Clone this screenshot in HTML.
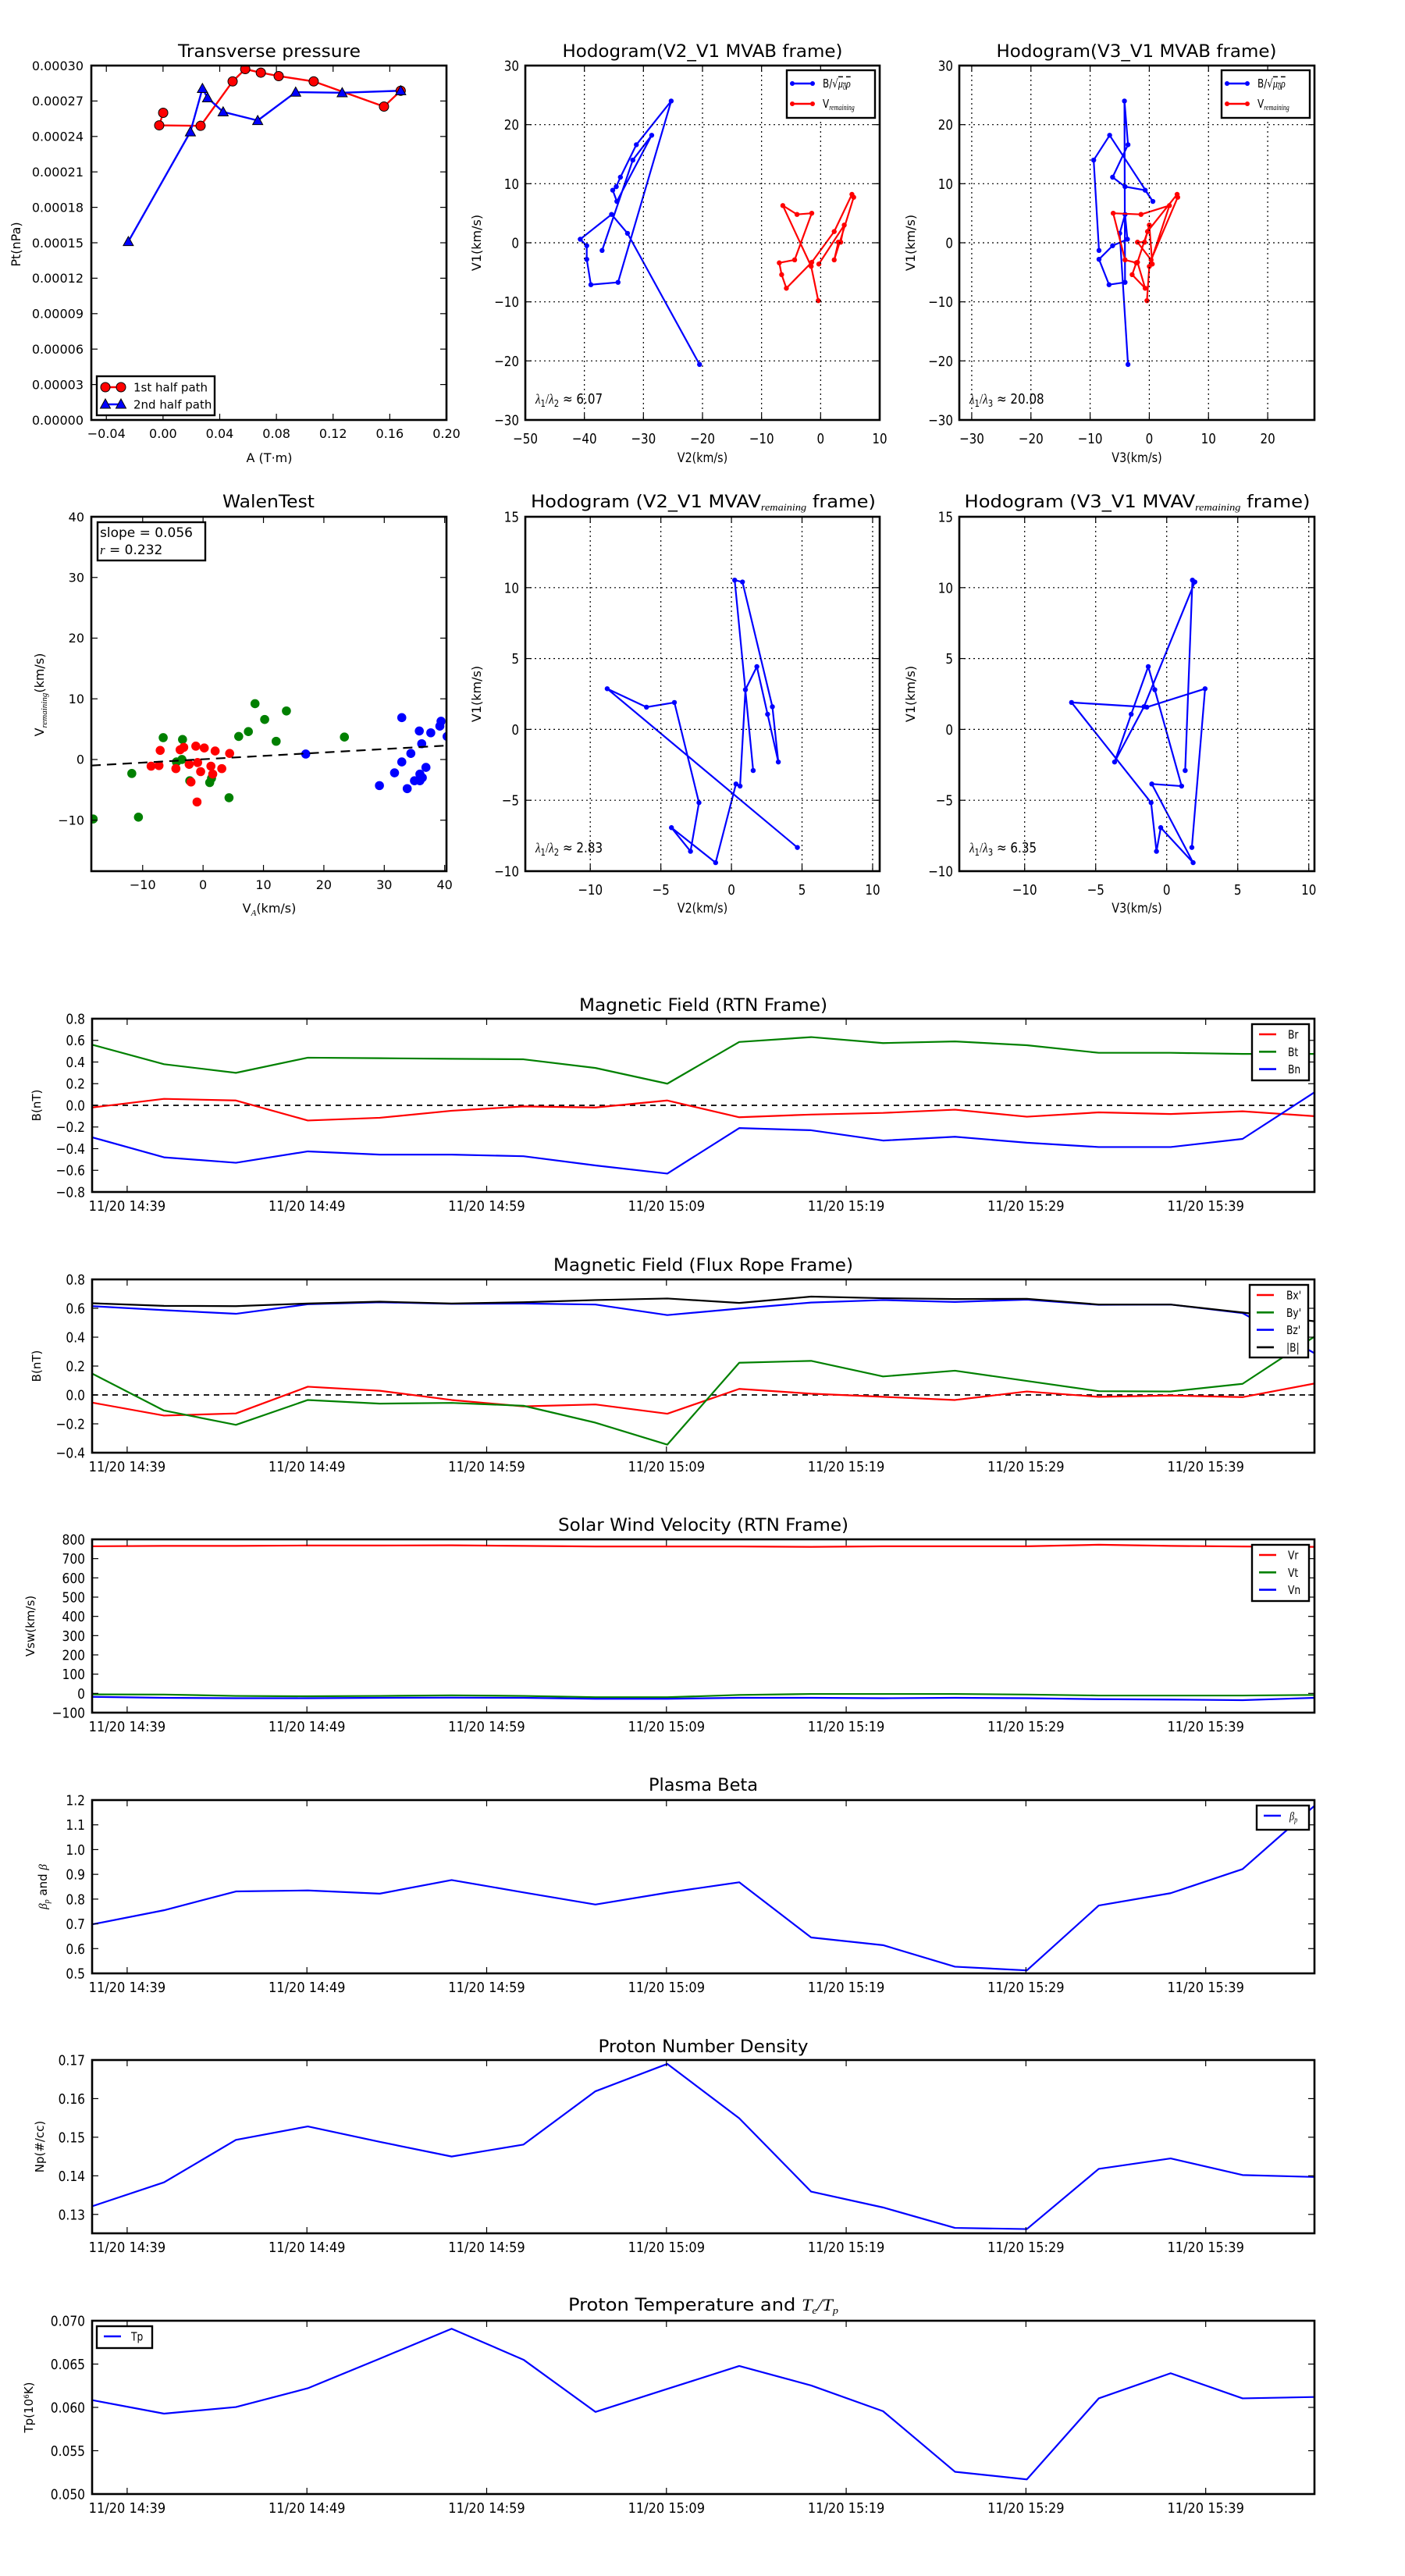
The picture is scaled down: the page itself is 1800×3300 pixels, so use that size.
<!DOCTYPE html>
<html><head><meta charset="utf-8"><title>Flux rope analysis</title>
<style>
html,body{margin:0;padding:0;background:#fff;}
svg{display:block;font-family:"DejaVu Sans","Liberation Sans",sans-serif;}
</style></head>
<body>
<svg id="fig" width="1800" height="3300" viewBox="0 0 1800 3300">
<rect x="0" y="0" width="1800" height="3300" fill="#fff"/>
</svg>
<script>
// ===== Data: transverse pressure =====
const ptA1 = [0.0001,-0.0027,0.0265,0.0491,0.058,0.069,0.0816,0.1063,0.1559,0.1677];
const ptP1 = [0.000260,0.0002494,0.000249,0.0002866,0.000297,0.000294,0.0002911,0.0002866,0.0002653,0.0002787];
const ptA2 = [-0.0245,0.0193,0.0278,0.0314,0.0424,0.0668,0.0936,0.1264,0.1677];
const ptP2 = [0.000151,0.0002439,0.0002806,0.0002727,0.0002608,0.0002535,0.0002775,0.000277,0.0002787];
const ptXTicks = [-0.04,0,0.04,0.08,0.12,0.16,0.20];
const ptXLabels = ['\u22120.04','0.00','0.04','0.08','0.12','0.16','0.20'];
const ptYTicks = [0,0.00003,0.00006,0.00009,0.00012,0.00015,0.00018,0.00021,0.00024,0.00027,0.0003];
const ptYLabels = ['0.00000','0.00003','0.00006','0.00009','0.00012','0.00015','0.00018','0.00021','0.00024','0.00027','0.00030'];
// ===== Data: MVAB hodograms =====
const mvabBV1 = [-1.3,14.0,18.2,7.0,8.9,9.5,11.1,16.6,24.0,-6.7,-7.1,-2.8,-0.5,0.6,4.8,1.6,-20.6];
const mvabBV2 = [-37.0,-31.8,-28.6,-34.5,-35.2,-34.6,-33.9,-31.2,-25.3,-34.3,-38.9,-39.6,-39.6,-40.7,-35.4,-32.7,-20.5];
const mvabBV3 = [-8.5,-9.4,-6.7,0.6,-0.7,-4.1,-6.2,-3.6,-4.2,-4.1,-6.8,-8.5,-6.2,-3.7,-4.1,-5.0,-3.6];
const mvabVV1 = [-9.8,-4.0,6.3,4.8,5.0,-2.9,-3.4,-5.4,-7.7,-3.3,1.9,8.2,7.7,-2.9,0.1,0.1,3.0,-3.6];
const mvabVV2 = [-0.4,-1.6,-6.4,-4.0,-1.5,-4.4,-7.0,-6.6,-5.8,-1.5,2.3,5.3,5.6,2.3,3.0,3.4,4.0,-0.3];
const mvabVV3 = [-0.4,0.0,3.4,-1.4,-6.1,-4.1,-2.2,-2.9,-0.7,-2.0,-0.3,4.7,4.8,0.3,-2.0,-0.8,0.0,0.5];
// ===== Data: MVAV hodograms =====
const mvavV1 = [-8.33,2.87,1.57,1.9,-5.17,-8.6,-6.93,-9.4,-3.85,-4.0,2.8,4.43,1.07,-2.3,1.6,10.4,10.53,-2.9];
const mvavV2 = [4.67,-8.8,-6.02,-4.04,-2.3,-2.9,-4.25,-1.12,0.32,0.61,0.99,1.8,2.56,3.32,2.9,0.78,0.23,1.54];
const mvavV3 = [1.77,2.7,-1.4,-6.7,-1.1,-0.72,-0.42,1.86,-1.05,1.05,-0.84,-1.3,-2.5,-3.67,-1.6,1.98,1.81,1.3];
// ===== Data: Walen test =====
const walGreenX = [-18.2,-11.8,-10.7,-6.6,-3.4,-3.5,-4.4,-2.2,1.1,1.4,4.3,5.9,7.5,8.6,10.2,12.1,13.8,23.4];
const walGreenY = [-9.8,-2.3,-9.5,3.6,3.3,0,-0.4,-3.5,-3.8,-3.1,-6.3,3.8,4.6,9.2,6.6,3.0,8.0,3.7];
const walRedX = [-8.6,-7.3,-7.1,-4.5,-3.8,-3.2,-2.3,-2.0,-1.2,-1.0,-0.9,-0.4,0.2,1.3,1.6,2.0,3.1,4.4];
const walRedY = [-1.1,-1.0,1.5,-1.5,1.6,2.0,-0.8,-3.7,2.2,-7.0,-0.5,-2.0,1.9,-1.1,-2.4,1.4,-1.5,1.0];
const walBlueX = [17.0,29.2,31.7,32.9,32.9,33.8,34.4,35.0,35.8,35.9,35.9,36.2,36.3,36.9,37.7,39.2,39.4,40.4];
const walBlueY = [0.9,-4.3,-2.2,6.9,-0.4,-4.8,1.0,-3.5,4.7,-2.4,-3.5,2.6,-3.0,-1.3,4.4,5.5,6.3,3.8];
const walSlope = 0.056;
const walIntercept = 0.04;
// ===== Data: time series =====
const tMin = [0,4,8,12,16,20,24,28,32,36,40,44,48,52,56,60,64,68];
const timeTicks = [1.95,11.95,21.95,31.95,41.95,51.95,61.95];
const timeLabels = ['11/20 14:39','11/20 14:49','11/20 14:59','11/20 15:09','11/20 15:19','11/20 15:29','11/20 15:39'];
const br = [-0.02,0.06,0.045,-0.14,-0.115,-0.05,-0.01,-0.02,0.045,-0.11,-0.085,-0.07,-0.04,-0.105,-0.065,-0.08,-0.055,-0.1];
const bt = [0.56,0.38,0.30,0.44,0.435,0.43,0.425,0.345,0.20,0.585,0.63,0.575,0.59,0.555,0.485,0.485,0.475,0.475];
const bn = [-0.295,-0.48,-0.53,-0.425,-0.455,-0.455,-0.47,-0.555,-0.63,-0.21,-0.23,-0.325,-0.29,-0.345,-0.385,-0.385,-0.31,0.12];
const bxp = [-0.053,-0.143,-0.128,0.057,0.029,-0.035,-0.079,-0.066,-0.13,0.042,0.009,-0.013,-0.035,0.024,-0.013,-0.004,-0.015,0.079];
const byp = [0.148,-0.108,-0.207,-0.035,-0.06,-0.055,-0.075,-0.192,-0.344,0.223,0.236,0.128,0.168,0.097,0.026,0.024,0.077,0.404];
const bzp = [0.615,0.587,0.562,0.628,0.642,0.631,0.633,0.626,0.553,0.598,0.64,0.657,0.644,0.66,0.624,0.626,0.567,0.289];
const bmag = [0.635,0.617,0.615,0.633,0.646,0.633,0.642,0.657,0.668,0.637,0.681,0.67,0.664,0.666,0.626,0.626,0.571,0.51];
const vr = [764,766,766,768,768,769,766,763,763,763,761,764,764,764,772,766,763,761];
const vt = [-5,-6,-13,-15,-13,-10,-13,-20,-20,-8,-3,-3,-3,-6,-11,-11,-11,-8];
const vn = [-18,-23,-25,-25,-23,-22,-23,-28,-28,-23,-23,-25,-23,-25,-30,-32,-35,-23];
const betaP = [0.698,0.755,0.831,0.835,0.822,0.877,0.827,0.778,0.826,0.868,0.645,0.614,0.527,0.512,0.774,0.824,0.921,1.177];
const np = [0.1321,0.1383,0.1493,0.1528,0.1488,0.1450,0.1481,0.1619,0.1690,0.1549,0.1359,0.1318,0.1265,0.1262,0.1418,0.1445,0.1402,0.1397];
const tp = [0.06084,0.05928,0.06004,0.06221,0.06562,0.06908,0.0655,0.05948,0.06213,0.06478,0.06253,0.05956,0.05257,0.05169,0.06104,0.06394,0.06104,0.0612];

// ===== helpers =====
const NS = 'http://www.w3.org/2000/svg';
const svg = document.getElementById('fig');
let clipId = 0;
function mk(tag, attrs, parent) {
  const e = document.createElementNS(NS, tag);
  for (const k in attrs) e.setAttribute(k, attrs[k]);
  (parent || svg).appendChild(e);
  return e;
}
function txt(parent, x, y, s, size, anchor, sx, rot, name) {
  const t = mk('text', {x: 0, y: 0, 'font-size': size, 'text-anchor': anchor || 'middle', fill: '#000',
    transform: 'translate(' + x + ',' + y + ') rotate(' + (rot || 0) + ') scale(' + (sx || 1) + ',1)'}, parent);
  t.textContent = s;
  
  
  return t;
}
function title(parent, cx, y, s, width, name) {
  const t = mk('text', {x: cx, y: y, 'font-size': 22, 'text-anchor': 'middle', textLength: width, lengthAdjust: 'spacingAndGlyphs'}, parent);
  t.textContent = s;
  
  
  return t;
}
function makeAxes(name, l, t, r, b, xr, yr) {
  const g = mk('g', {});
  
  
  const id = 'clip' + (clipId++);
  const cp = mk('clipPath', {id: id}, g);
  mk('rect', {x: l, y: t, width: r - l, height: b - t}, cp);
  const data = mk('g', {'clip-path': 'url(#' + id + ')'}, g);
  
  
  return {g: g, data: data, l: l, t: t, r: r, b: b,
    sx: v => l + (v - xr[0]) / (xr[1] - xr[0]) * (r - l),
    sy: v => b - (v - yr[0]) / (yr[1] - yr[0]) * (b - t)};
}
function frame(ax) {
  const f = mk('rect', {x: ax.l, y: ax.t, width: ax.r - ax.l, height: ax.b - ax.t, fill: 'none', stroke: '#000', 'stroke-width': 2.6}, ax.g);
  
  
}
function xticks(ax, vals, labels, o) {
  vals.forEach((v, i) => {
    const x = ax.sx(v);
    if (o.grid) {
      const gl = mk('line', {x1: x, y1: ax.t, x2: x, y2: ax.b, stroke: '#000', 'stroke-width': 1.2, 'stroke-dasharray': '2,4'}, ax.g);
      
      
    }
    const t1 = mk('line', {x1: x, y1: ax.b, x2: x, y2: ax.b - 8, stroke: '#000', 'stroke-width': 1.2}, ax.g);
    
    
    const t2 = mk('line', {x1: x, y1: ax.t, x2: x, y2: ax.t + 8, stroke: '#000', 'stroke-width': 1.2}, ax.g);
    
    
    txt(ax.g, x, ax.b + o.dy, labels[i], o.fs, 'middle', o.sc, 0, 'x-tick-label');
  });
}
function yticks(ax, vals, labels, o) {
  vals.forEach((v, i) => {
    const y = ax.sy(v);
    if (o.grid) {
      const gl = mk('line', {x1: ax.l, y1: y, x2: ax.r, y2: y, stroke: '#000', 'stroke-width': 1.2, 'stroke-dasharray': '2,4'}, ax.g);
      
      
    }
    const t1 = mk('line', {x1: ax.l, y1: y, x2: ax.l + 8, y2: y, stroke: '#000', 'stroke-width': 1.2}, ax.g);
    
    
    const t2 = mk('line', {x1: ax.r, y1: y, x2: ax.r - 8, y2: y, stroke: '#000', 'stroke-width': 1.2}, ax.g);
    
    
    txt(ax.g, o.x, y + o.fs * 0.36, labels[i], o.fs, 'end', o.sc, 0, 'y-tick-label');
  });
}
function line(ax, xs, ys, color, w, name, dash) {
  const d = xs.map((x, i) => (i ? 'L' : 'M') + ax.sx(x).toFixed(2) + ',' + ax.sy(ys[i]).toFixed(2)).join('');
  const p = mk('path', {d: d, fill: 'none', stroke: color, 'stroke-width': w, 'stroke-linejoin': 'round', 'stroke-dasharray': dash || 'none'}, ax.data);
  
  
  return p;
}
function dots(ax, xs, ys, color, r, name, edge) {
  xs.forEach((x, i) => {
    const c = mk('circle', {cx: ax.sx(x), cy: ax.sy(ys[i]), r: r, fill: color, stroke: edge || color, 'stroke-width': edge ? 1 : 0}, ax.data);
    
    
  });
}
function tris(ax, xs, ys, color, s, name) {
  xs.forEach((x, i) => {
    const cx = ax.sx(x), cy = ax.sy(ys[i]);
    const p = mk('polygon', {points: cx + ',' + (cy - s) + ' ' + (cx - s) + ',' + (cy + s * 0.8) + ' ' + (cx + s) + ',' + (cy + s * 0.8), fill: color, stroke: '#000', 'stroke-width': 1}, ax.data);
    
    
  });
}
function legendBox(parent, x, y, w, h, name) {
  const g = mk('g', {}, parent);
  
  
  mk('rect', {x: x, y: y, width: w, height: h, fill: '#fff', stroke: '#000', 'stroke-width': 2.4}, g);
  return g;
}
function legEntry(g, x1, x2, y, color, label, tx, fs, sc, name) {
  const l = mk('line', {x1: x1, y1: y, x2: x2, y2: y, stroke: color, 'stroke-width': 2.6}, g);
  
  
  txt(g, tx, y + fs * 0.36, label, fs, 'start', sc, 0, name + '-label');
}

// ===== 1. Transverse pressure =====
(function () {
  const ax = makeAxes('transverse-pressure-chart', 117, 84, 572, 538, [-0.0506, 0.2], [0, 0.0003]);
  title(ax.g, 345, 73, 'Transverse pressure', 234, 'transverse-pressure-title');
  line(ax, ptA1, ptP1, '#ff0000', 2.4, 'first-half-path-line');
  line(ax, ptA2, ptP2, '#0000ff', 2.4, 'second-half-path-line');
  dots(ax, ptA1, ptP1, '#ff0000', 6, 'first-half-point', '#000');
  tris(ax, ptA2, ptP2, '#0000ff', 6.5, 'second-half-point');
  xticks(ax, ptXTicks, ptXLabels, {fs: 16, sc: 1, dy: 23});
  yticks(ax, ptYTicks, ptYLabels, {fs: 16, sc: 1, x: 107});
  frame(ax);
  txt(ax.g, 345, 592, 'A (T\u00b7m)', 16, 'middle', 1, 0, 'x-axis-title');
  txt(ax.g, 26, 313, 'Pt(nPa)', 16, 'middle', 1, -90, 'y-axis-title');
  const lg = legendBox(ax.g, 124, 482, 151, 50, 'legend');
  legEntry(lg, 135, 155, 496, '#ff0000', '1st half path', 171, 15, 1, 'legend-entry-1st-half');
  const c1 = mk('circle', {cx: 135, cy: 496, r: 6, fill: '#ff0000', stroke: '#000'}, lg);
   
  const c2 = mk('circle', {cx: 155, cy: 496, r: 6, fill: '#ff0000', stroke: '#000'}, lg);
   
  legEntry(lg, 135, 155, 518, '#0000ff', '2nd half path', 171, 15, 1, 'legend-entry-2nd-half');
  [135, 155].forEach(cx => {
    const p = mk('polygon', {points: cx + ',' + 511 + ' ' + (cx - 6.5) + ',' + 523 + ' ' + (cx + 6.5) + ',' + 523, fill: '#0000ff', stroke: '#000'}, lg);
    
    
  });
})();

// ===== Hodogram builder =====
function lambdaText(parent, x, y, sub2, val, name) {
  const t = mk('text', {x: 0, y: 0, 'font-size': 18, 'text-anchor': 'start', transform: 'translate(' + x + ',' + y + ') scale(0.84,1)'}, parent);
  
  
  t.innerHTML = '<tspan font-family="Liberation Serif, serif" font-style="italic">\u03bb</tspan><tspan font-size="12" dy="4">1</tspan><tspan dy="-4" font-family="Liberation Serif, serif">/</tspan><tspan font-family="Liberation Serif, serif" font-style="italic">\u03bb</tspan><tspan font-size="12" dy="4">' + sub2 + '</tspan><tspan dy="-4"> \u2248 ' + val + '</tspan>';
}
function hodoLegend(parent, x, y, name, withV) {
  const lg = legendBox(parent, x, y, 113, 61, name);
  const rows = [[y + 17, '#0000ff'], [y + 43, '#ff0000']];
  rows.forEach((r, k) => {
    const l = mk('line', {x1: x + 7, y1: r[0], x2: x + 33, y2: r[0], stroke: r[1], 'stroke-width': 2.6}, lg);
    
    
    [x + 7, x + 33].forEach(cx => {
      const c = mk('circle', {cx: cx, cy: r[0], r: 3, fill: r[1]}, lg);
      
      
    });
  });
  const t1 = mk('text', {x: 0, y: 0, 'font-size': 15, transform: 'translate(' + (x + 46) + ',' + (y + 22) + ') scale(0.8,1)'}, lg);
  
  
  t1.innerHTML = 'B/\u221a<tspan text-decoration="overline" font-family="Liberation Serif, serif" font-style="italic">\u03bc<tspan font-size="10" dy="3">0</tspan><tspan dy="-3">\u03c1</tspan></tspan>';
  const t2 = mk('text', {x: 0, y: 0, 'font-size': 15, transform: 'translate(' + (x + 46) + ',' + (y + 48) + ') scale(0.8,1)'}, lg);
  
  
  t2.innerHTML = 'V<tspan font-size="10" dy="3" font-family="Liberation Serif, serif" font-style="italic">remaining</tspan>';
}
function hodogram(o) {
  const ax = makeAxes(o.name, o.l, o.t, o.r, o.b, o.xr, o.yr);
  xticks(ax, o.xt, o.xt.map(v => v < 0 ? '\u2212' + Math.abs(v) : '' + v), {fs: 18, sc: 0.84, dy: 30, grid: true});
  yticks(ax, o.yt, o.yt.map(v => v < 0 ? '\u2212' + Math.abs(v) : '' + v), {fs: 18, sc: 0.84, x: o.l - 8, grid: true});
  o.series.forEach(s => {
    line(ax, s.x, s.y, s.c, 2.2, s.n + '-line');
    dots(ax, s.x, s.y, s.c, 3.2, s.n + '-point');
  });
  frame(ax);
  const tt = mk('text', {x: o.tc, y: o.ty, 'font-size': 22, 'text-anchor': 'middle', textLength: o.tw, lengthAdjust: 'spacingAndGlyphs'}, ax.g);
  
  
  tt.innerHTML = o.title;
  txt(ax.g, (o.l + o.r) / 2, o.xly, o.xlab, 17, 'middle', 0.84, 0, 'x-axis-title');
  txt(ax.g, o.l - 57, (o.t + o.b) / 2, 'V1(km/s)', 16, 'middle', 1, -90, 'y-axis-title');
  lambdaText(ax.g, o.l + 13, o.lamy, o.sub2, o.lam, 'eigenvalue-ratio');
  if (o.legend) hodoLegend(ax.g, o.r - 119, o.t + 6, 'legend', true);
}
hodogram({name: 'hodogram-v2-v1-mvab', l: 673, t: 84, r: 1127, b: 538, xr: [-50, 10], yr: [-30, 30],
  xt: [-50, -40, -30, -20, -10, 0, 10], yt: [-30, -20, -10, 0, 10, 20, 30],
  series: [{x: mvabBV2, y: mvabBV1, c: '#0000ff', n: 'b-alfven'}, {x: mvabVV2, y: mvabVV1, c: '#ff0000', n: 'v-remaining'}],
  tc: 900, ty: 73, tw: 359, title: 'Hodogram(V2_V1 MVAB frame)', xly: 592, xlab: 'V2(km/s)', lamy: 517, sub2: '2', lam: '6.07', legend: true});
hodogram({name: 'hodogram-v3-v1-mvab', l: 1229, t: 84, r: 1684, b: 538, xr: [-32.1, 27.9], yr: [-30, 30],
  xt: [-30, -20, -10, 0, 10, 20], yt: [-30, -20, -10, 0, 10, 20, 30],
  series: [{x: mvabBV3, y: mvabBV1, c: '#0000ff', n: 'b-alfven'}, {x: mvabVV3, y: mvabVV1, c: '#ff0000', n: 'v-remaining'}],
  tc: 1456, ty: 73, tw: 359, title: 'Hodogram(V3_V1 MVAB frame)', xly: 592, xlab: 'V3(km/s)', lamy: 517, sub2: '3', lam: '20.08', legend: true});
const subRem = '<tspan font-size="13" dy="4" font-family="Liberation Serif, serif" font-style="italic">remaining</tspan><tspan dy="-4"> frame)</tspan>';
hodogram({name: 'hodogram-v2-v1-mvav', l: 673, t: 662, r: 1127, b: 1116, xr: [-14.6, 10.5], yr: [-10, 15],
  xt: [-10, -5, 0, 5, 10], yt: [-10, -5, 0, 5, 10, 15],
  series: [{x: mvavV2, y: mvavV1, c: '#0000ff', n: 'velocity'}],
  tc: 901, ty: 650, tw: 442, title: 'Hodogram (V2_V1 MVAV' + subRem, xly: 1169, xlab: 'V2(km/s)', lamy: 1092, sub2: '2', lam: '2.83', legend: false});
hodogram({name: 'hodogram-v3-v1-mvav', l: 1229, t: 662, r: 1684, b: 1116, xr: [-14.6, 10.4], yr: [-10, 15],
  xt: [-10, -5, 0, 5, 10], yt: [-10, -5, 0, 5, 10, 15],
  series: [{x: mvavV3, y: mvavV1, c: '#0000ff', n: 'velocity'}],
  tc: 1457, ty: 650, tw: 443, title: 'Hodogram (V3_V1 MVAV' + subRem, xly: 1169, xlab: 'V3(km/s)', lamy: 1092, sub2: '3', lam: '6.35', legend: false});

// ===== Walen test =====
(function () {
  const xr = [-18.5, 40.3];
  const ax = makeAxes('walen-test-chart', 117, 662, 572, 1116, xr, [-18.4, 40]);
  title(ax.g, 344, 650, 'WalenTest', 118, 'walen-test-title');
  dots(ax, walGreenX, walGreenY, '#008000', 5.8, 'green-point');
  dots(ax, walRedX, walRedY, '#ff0000', 5.8, 'red-point');
  dots(ax, walBlueX, walBlueY, '#0000ff', 5.8, 'blue-point');
  line(ax, xr, xr.map(v => walSlope * v + walIntercept), '#000', 2.2, 'fit-line', '12,8');
  const labs = v => v < 0 ? '\u2212' + Math.abs(v) : '' + v;
  xticks(ax, [-10, 0, 10, 20, 30, 40], [-10, 0, 10, 20, 30, 40].map(labs), {fs: 16, sc: 1, dy: 23});
  yticks(ax, [-10, 0, 10, 20, 30, 40], [-10, 0, 10, 20, 30, 40].map(labs), {fs: 16, sc: 1, x: 108});
  frame(ax);
  const xl = mk('text', {x: 345, y: 1169, 'font-size': 16, 'text-anchor': 'middle'}, ax.g);
  
  
  xl.innerHTML = 'V<tspan font-size="11" dy="4" font-family="Liberation Serif, serif" font-style="italic">A</tspan><tspan dy="-4">(km/s)</tspan>';
  const yl = mk('text', {x: 0, y: 0, 'font-size': 16, 'text-anchor': 'middle', transform: 'translate(56,890) rotate(-90)'}, ax.g);
  
  
  yl.innerHTML = 'V<tspan font-size="11" dy="4" font-family="Liberation Serif, serif" font-style="italic">remaining</tspan><tspan dy="-4">(km/s)</tspan>';
  const box = legendBox(ax.g, 125, 669, 138, 49, 'fit-statistics-box');
  txt(box, 128, 688, 'slope = 0.056', 17, 'start', 1, 0, 'slope-text');
  const r = mk('text', {x: 128, y: 710, 'font-size': 17}, box);
  
  
  r.innerHTML = '<tspan font-family="Liberation Serif, serif" font-style="italic">r</tspan> = 0.232';
})();

// ===== Time series builder =====
function timeSeries(o) {
  const ax = makeAxes(o.name, 118, o.t, 1684, o.t + 222, [0, 68], o.yr);
  const tt = mk('text', {x: 901, y: o.ty, 'font-size': 22, 'text-anchor': 'middle', textLength: o.tw, lengthAdjust: 'spacingAndGlyphs'}, ax.g);
  
  
  tt.innerHTML = o.title;
  if (o.zero) {
    const z = mk('line', {x1: ax.l, x2: ax.r, y1: ax.sy(0), y2: ax.sy(0), stroke: '#000', 'stroke-width': 1.8, 'stroke-dasharray': '7,6'}, ax.data);
    
    
  }
  o.series.forEach(s => line(ax, tMin, s.v, s.c, 2.2, s.n + '-line'));
  xticks(ax, timeTicks, timeLabels, {fs: 18, sc: 0.9, dy: 24});
  yticks(ax, o.yt, o.yl, {fs: 18, sc: 0.86, x: 109});
  frame(ax);
  const yl = mk('text', {x: 0, y: 0, 'font-size': 15, 'text-anchor': 'middle', transform: 'translate(' + o.ylx + ',' + (o.t + 111) + ') rotate(-90)'}, ax.g);
  
  
  yl.innerHTML = o.ylab;
  if (o.leg) {
    const L = o.leg;
    const lg = legendBox(ax.g, L.x, L.y, L.w, L.h, 'legend');
    o.series.forEach((s, i) => {
      const lab = L.labels ? L.labels[i] : s.n;
      const y = L.y + 13 + i * 22.3;
      const l = mk('line', {x1: L.x + 9, y1: y, x2: L.x + 31, y2: y, stroke: s.c, 'stroke-width': 2.6}, lg);
      
      
      const t = mk('text', {x: 0, y: 0, 'font-size': 15, transform: 'translate(' + (L.x + L.tx) + ',' + (y + 5.5) + ') scale(0.82,1)'}, lg);
      
      
      t.innerHTML = lab;
    });
  }
}
const fmt = (v, d) => (v < 0 ? '\u2212' : '') + Math.abs(v).toFixed(d);
const ytRTN = [-0.8, -0.6, -0.4, -0.2, 0, 0.2, 0.4, 0.6, 0.8];
timeSeries({name: 'magnetic-field-rtn-chart', t: 1305, yr: [-0.8, 0.8], ty: 1295, tw: 318, title: 'Magnetic Field (RTN Frame)',
  zero: true, yt: ytRTN, yl: ytRTN.map(v => fmt(v, 1)), ylx: 52, ylab: 'B(nT)',
  series: [{v: br, c: '#ff0000', n: 'Br'}, {v: bt, c: '#008000', n: 'Bt'}, {v: bn, c: '#0000ff', n: 'Bn'}],
  leg: {x: 1604, y: 1312, w: 73, h: 72, tx: 46}});
const ytFR = [-0.4, -0.2, 0, 0.2, 0.4, 0.6, 0.8];
timeSeries({name: 'magnetic-field-flux-rope-chart', t: 1639, yr: [-0.4, 0.8], ty: 1628, tw: 384, title: 'Magnetic Field (Flux Rope Frame)',
  zero: true, yt: ytFR, yl: ytFR.map(v => fmt(v, 1)), ylx: 52, ylab: 'B(nT)',
  series: [{v: bxp, c: '#ff0000', n: 'Bx'}, {v: byp, c: '#008000', n: 'By'}, {v: bzp, c: '#0000ff', n: 'Bz'}, {v: bmag, c: '#000000', n: 'Bmag'}],
  leg: {x: 1601, y: 1646, w: 75, h: 93, tx: 47, labels: ["Bx'", "By'", "Bz'", '|B|']}});
const ytSW = [-100, 0, 100, 200, 300, 400, 500, 600, 700, 800];
timeSeries({name: 'solar-wind-velocity-chart', t: 1972, yr: [-100, 800], ty: 1961, tw: 372, title: 'Solar Wind Velocity (RTN Frame)',
  zero: false, yt: ytSW, yl: ytSW.map(v => fmt(v, 0)), ylx: 44, ylab: 'Vsw(km/s)',
  series: [{v: vr, c: '#ff0000', n: 'Vr'}, {v: vt, c: '#008000', n: 'Vt'}, {v: vn, c: '#0000ff', n: 'Vn'}],
  leg: {x: 1604, y: 1979, w: 73, h: 72, tx: 46}});
const ytB = [0.5, 0.6, 0.7, 0.8, 0.9, 1.0, 1.1, 1.2];
timeSeries({name: 'plasma-beta-chart', t: 2306, yr: [0.5, 1.2], ty: 2294, tw: 140, title: 'Plasma Beta',
  zero: false, yt: ytB, yl: ytB.map(v => fmt(v, 1)), ylx: 60,
  ylab: '<tspan font-family="Liberation Serif, serif" font-style="italic">\u03b2</tspan><tspan font-size="10" dy="3" font-family="Liberation Serif, serif" font-style="italic">p</tspan><tspan dy="-3"> and </tspan><tspan font-family="Liberation Serif, serif" font-style="italic">\u03b2</tspan>',
  series: [{v: betaP, c: '#0000ff', n: 'beta-p'}],
  leg: {x: 1610, y: 2313, w: 67, h: 31, tx: 42, labels: ['<tspan font-family="Liberation Serif, serif" font-style="italic">\u03b2<tspan font-size="10" dy="3">p</tspan></tspan>']}});
const ytN = [0.13, 0.14, 0.15, 0.16, 0.17];
timeSeries({name: 'proton-density-chart', t: 2639, yr: [0.1251, 0.17], ty: 2629, tw: 269, title: 'Proton Number Density',
  zero: false, yt: ytN, yl: ytN.map(v => fmt(v, 2)), ylx: 56, ylab: 'Np(#/cc)',
  series: [{v: np, c: '#0000ff', n: 'Np'}]});
const ytT = [0.050, 0.055, 0.060, 0.065, 0.070];
timeSeries({name: 'proton-temperature-chart', t: 2973, yr: [0.05, 0.07], ty: 2960, tw: 346,
  title: 'Proton Temperature and <tspan font-family="Liberation Serif, serif" font-style="italic">T<tspan font-size="13" dy="4">e</tspan><tspan dy="-4">/T</tspan><tspan font-size="13" dy="4">p</tspan></tspan>',
  zero: false, yt: ytT, yl: ytT.map(v => fmt(v, 3)), ylx: 42,
  ylab: 'Tp(10<tspan font-size="9" dy="-5">6</tspan><tspan dy="5">K)</tspan>',
  series: [{v: tp, c: '#0000ff', n: 'Tp'}],
  leg: {x: 124, y: 2980, w: 71, h: 28, tx: 44}});
</script>
</body></html>
